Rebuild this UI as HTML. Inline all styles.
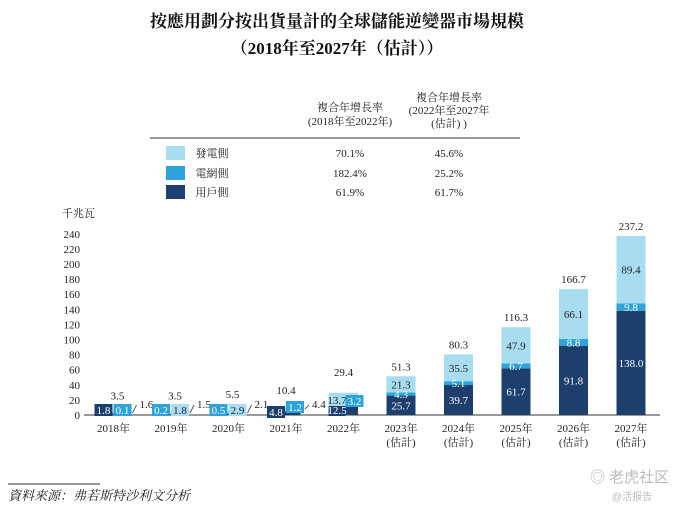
<!DOCTYPE html>
<html><head><meta charset="utf-8"><style>
body{margin:0;background:#fff;}
svg{display:block;font-family:"Liberation Serif","Noto Serif CJK SC","Noto Sans CJK TC",serif;}
</style></head><body>
<svg id="c" width="675" height="515" viewBox="0 0 675 515">
<text x="337" y="27" text-anchor="middle" font-size="17" font-weight="bold" fill="#111">按應用劃分按出貨量計的全球儲能逆變器市場規模</text>
<text x="337" y="54" text-anchor="middle" font-size="17" font-weight="bold" fill="#111">（2018年至2027年（估計））</text>
<g font-size="11" fill="#222" text-anchor="middle">
<text x="350" y="111">複合年增長率</text><text x="350" y="125">(2018年至2022年)</text>
<text x="449" y="101">複合年增長率</text><text x="449" y="114">(2022年至2027年</text><text x="449" y="127">(估計) )</text>
<line x1="150" y1="138" x2="520" y2="138" stroke="#333" stroke-width="1"/>
<rect x="166" y="146" width="19" height="14" fill="#a8dcf1"/>
<rect x="166" y="166" width="19" height="14" fill="#2ea3db"/>
<rect x="166" y="185" width="19" height="14" fill="#1c3f6e"/>
<text x="212" y="157">發電側</text>
<text x="212" y="177">電網側</text>
<text x="212" y="196">用戶側</text>
<text x="350" y="157">70.1%</text><text x="449" y="157">45.6%</text>
<text x="350" y="177">182.4%</text><text x="449" y="177">25.2%</text>
<text x="350" y="196">61.9%</text><text x="449" y="196">61.7%</text>
</g>
<text x="62" y="217" font-size="11" fill="#222">千兆瓦</text>
<g id="axes"></g><g id="bars"></g>
<line x1="8" y1="484" x2="100" y2="484" stroke="#333" stroke-width="1"/>
<text x="8" y="500" font-size="13" font-style="italic" fill="#222">資料來源：弗若斯特沙利文分析</text>
<text x="590" y="482" font-size="15" fill="#bbb" font-family="Liberation Sans,Noto Sans CJK SC,sans-serif">◎ 老虎社区</text>
<text x="612" y="500" font-size="10" fill="#bbb" font-family="Liberation Sans,Noto Sans CJK SC,sans-serif">@活报告</text>
</svg>
<script>
const years=["2018年","2019年","2020年","2021年","2022年","2023年","2024年","2025年","2026年","2027年"];
const estimated=[false,false,false,false,false,true,true,true,true,true];
const userSide=[1.8,1.5,2.1,4.8,12.5,25.7,39.7,61.7,91.8,138.0];
const gridSide=[0.1,0.2,0.5,1.2,3.2,4.3,5.1,6.7,8.8,9.8];
const genSide=[1.6,1.8,2.9,4.4,13.7,21.3,35.5,47.9,66.1,89.4];
const totals=[3.5,3.5,5.5,10.4,29.4,51.3,80.3,116.3,166.7,237.2];
const yTicks=[0,20,40,60,80,100,120,140,160,180,200,220,240];
const NS="http://www.w3.org/2000/svg";
const base=415,scale=0.755,x0=113.5,step=57.5,bw=29;
const Y=v=>base-v*scale, X=i=>x0+i*step;
const C={u:"#1c3f6e",g:"#2ea3db",n:"#a8dcf1"};
function mk(p,tag,a,txt){const e=document.createElementNS(NS,tag);for(const k in a)e.setAttribute(k,a[k]);if(txt!==undefined)e.textContent=txt;p.appendChild(e);return e;}
const ax=document.getElementById('axes'),bg=document.getElementById('bars');
yTicks.forEach(t=>{const e=mk(ax,'text',{x:80,y:Y(t)+4,'text-anchor':'end','font-size':11,fill:'#222'},t);

});
const al=mk(ax,'line',{x1:84,y1:base,x2:660,y2:base,stroke:'#333','stroke-width':1});


function box(x,y,w,fill,txt,col){mk(bg,'rect',{x:x,y:y-10,width:w,height:12,fill:fill});mk(bg,'text',{x:x+w/2,y:y,'text-anchor':'middle','font-size':11,fill:col},txt);}
years.forEach((yr,i)=>{
 const cx=X(i),x=cx-bw/2;
 const segs=[[userSide[i],C.u,'user'],[gridSide[i],C.g,'grid'],[genSide[i],C.n,'generation']];
 let acc=0;
 segs.forEach(s=>{const r=mk(bg,'rect',{x:x,y:Y(acc+s[0]),width:bw,height:s[0]*scale,fill:s[1]});
 
 acc+=s[0];});
 const xl=mk(bg,'text',{x:cx,y:432,'text-anchor':'middle','font-size':11,fill:'#222'},yr);
 
 
 if(estimated[i]) mk(bg,'text',{x:cx,y:446,'text-anchor':'middle','font-size':11,fill:'#222'},'(估計)');
 const tot=mk(bg,'text',{x:cx+(i<3?4:0),y:Y(totals[i])-(i<4?13:(i===4?17:6)),'text-anchor':'middle','font-size':11,fill:'#222'},totals[i].toFixed(1));
 
 
 if(i>=5){
  const ym=(a,b)=>(Y(a)+Y(b))/2+4;
  const u=userSide[i],g=gridSide[i],n=genSide[i];
  mk(bg,'text',{x:cx,y:ym(0,u),'text-anchor':'middle','font-size':11,fill:'#fff'},u.toFixed(1));
  mk(bg,'text',{x:cx,y:ym(u,u+g),'text-anchor':'middle','font-size':11,fill:'#fff'},g.toFixed(1));
  mk(bg,'text',{x:cx,y:ym(u+g,u+g+n),'text-anchor':'middle','font-size':11,fill:'#222'},n.toFixed(1));
 } else if(i<3){
  const order=i===0?[[userSide[i],C.u,'#fff'],[gridSide[i],C.g,'#fff']]:[[gridSide[i],C.g,'#fff'],[genSide[i],C.n,'#222']];
  box(cx-19,base-1,18,order[0][1],order[0][0].toFixed(1),order[0][2]);
  box(cx,base-1,18,order[1][1],order[1][0].toFixed(1),order[1][2]);
  const out=i===0?genSide[i]:userSide[i];
  mk(bg,'line',{x1:cx+19,y1:base-2,x2:cx+23,y2:base-10,stroke:'#222','stroke-width':0.8});
  mk(bg,'text',{x:cx+26,y:base-7,'font-size':11,fill:'#222'},out.toFixed(1));
 } else if(i===3){
  box(cx-19,base+1,18,C.u,userSide[i].toFixed(1),'#fff');
  box(cx,base-4,18,C.g,gridSide[i].toFixed(1),'#fff');
  mk(bg,'line',{x1:cx+19,y1:base-6,x2:cx+23,y2:base-10,stroke:'#222','stroke-width':0.8});
  mk(bg,'text',{x:cx+26,y:base-7,'font-size':11,fill:'#222'},genSide[i].toFixed(1));
 } else {
  box(cx-15,base-1,17,C.u,userSide[i].toFixed(1),'#fff');
  box(cx-15,base-11,17,C.n,genSide[i].toFixed(1),'#222');
  box(cx+2,base-10,18,C.g,gridSide[i].toFixed(1),'#fff');
 }
});
</script>
</body></html>
